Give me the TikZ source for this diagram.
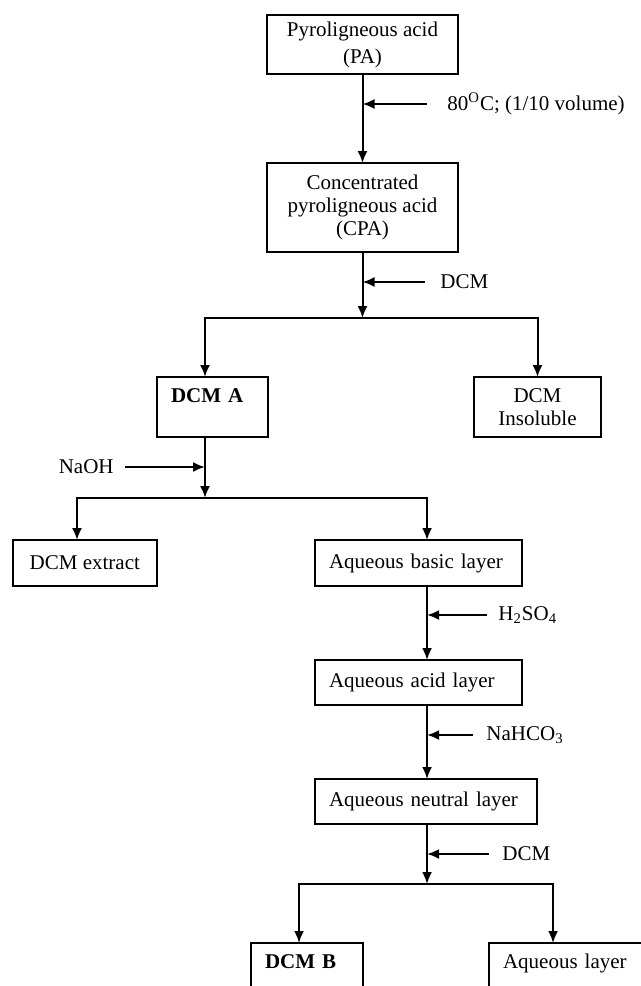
\documentclass[tikz,border=0pt]{standalone}
\usepackage{fontspec}
\setmainfont{Liberation Serif}
\usetikzlibrary{arrows.meta, positioning, calc}

\begin{document}
\begin{tikzpicture}[
        node distance=37pt and 60pt,
        box/.style={rectangle, draw=black, line width=1pt, outer sep=0pt, inner xsep=7pt, inner ysep=2pt, align=center, font=\fontsize{10.5}{11.5}\selectfont},
        lbox/.style={box, align=left},
        reagent/.style={inner ysep=0pt, inner xsep=6.5pt, font=\fontsize{10.5}{11.5}\selectfont},
        arrow/.style={-{Latex[length=6pt, width=5pt]}, line width=1pt}
    ]
        \path[use as bounding box, fill=white] (0,0) rectangle (320.5pt,-493pt);
        \clip (0,0) rectangle (320.5pt,-493pt);

        \node[box, minimum width=95.5pt, minimum height=29.5pt] (pa) at (181.25pt,-22.25pt) {Pyroligneous acid\\[2pt](PA)};
        \node[box, minimum width=95.5pt, minimum height=44.5pt, below=44.5pt of pa] (cpa) {Concentrated\\pyroligneous acid\\(CPA)};
        \node[lbox, text width=41.5pt, minimum height=30pt, below=62.5pt of cpa, xshift=-75pt] (dcma) {\textbf{DCM A}\\\mbox{}};
        \node[box, minimum width=63.5pt, minimum height=30pt, right=103pt of dcma] (dcmi) {DCM\\Insoluble};
        \node[box, minimum width=72.25pt, minimum height=23pt, below=51.5pt of dcma, xshift=-63.85pt] (dcmx) {DCM extract};
        \node[lbox, text width=89.5pt, minimum height=23pt, right=79pt of dcmx] (basic) {Aqueous basic layer};
        \node[lbox, text width=89.5pt, minimum height=22.5pt, below=37pt of basic] (acid) {Aqueous acid layer};
        \node[lbox, text width=97pt, minimum height=22.5pt, below=37pt of acid.south west, anchor=north west] (neutral) {Aqueous neutral layer};
        \node[lbox, text width=42pt, minimum height=30pt, below=59.5pt of neutral, xshift=-59.5pt] (dcmb) {\textbf{DCM B}\\\mbox{}};
        \node[lbox, text width=66pt, minimum height=30pt, right=63pt of dcmb] (aqueous) {Aqueous layer\\\mbox{}};

        % reagents
        \node[reagent, inner xsep=10pt, anchor=west] (heat) at ([shift={(32.25pt,-15pt)}]pa.south) {80\textsuperscript{O}C; (1/10 volume)};
        \node[reagent, inner xsep=7.5pt, anchor=west] (dcm1) at ([shift={(31.25pt,-15pt)}]cpa.south) {DCM};

        \coordinate (m1) at (heat -| pa.south);
        \coordinate (m2) at (dcm1 -| cpa.south);
        \coordinate (j1) at ([yshift=-33pt]cpa.south);
        \coordinate (ain) at ([xshift=-3.75pt]dcma.north);
        \coordinate (aout) at ([xshift=-3.75pt]dcma.south);

        \draw[arrow] (pa) -- (cpa);
        \draw[arrow] (heat) -- (m1);
        \draw[arrow] (cpa) -- (j1);
        \draw[arrow] (dcm1) -- (m2);
        \draw[arrow] (j1) -| (ain);
        \draw[arrow] (j1) -| (dcmi);

        \node[reagent, inner xsep=5.5pt, anchor=east] (naoh) at ([shift={(-40pt,-15pt)}]aout) {NaOH};
        \coordinate (m3) at (naoh -| aout);
        \coordinate (j2) at ([yshift=-30.5pt]aout);
        \coordinate (xin) at ([xshift=-3.9pt]dcmx.north);
        \coordinate (bin) at ([xshift=4.25pt]basic.north);
        \coordinate (bout) at ([xshift=4.25pt]basic.south);

        \draw[arrow] (aout) -- (j2);
        \draw[arrow] (naoh) -- (m3);
        \draw[arrow] (j2) -| (xin);
        \draw[arrow] (j2) -| (bin);

        % aqueous chain
        \node[reagent, inner xsep=5.5pt, anchor=west] (acid1) at ([shift={(30pt,-14.5pt)}]bout) {H\textsubscript{2}SO\textsubscript{4}};
        \coordinate (m4) at (acid1 -| bout);
        \coordinate (cin) at (bout |- acid.north);
        \coordinate (cout) at (bout |- acid.south);
        \node[reagent, anchor=west] (base1) at ([shift={(23pt,-15pt)}]cout) {NaHCO\textsubscript{3}};
        \coordinate (m5) at (base1 -| bout);
        \coordinate (nin) at (bout |- neutral.north);
        \coordinate (nout) at (bout |- neutral.south);
        \node[reagent, anchor=west] (dcm2) at ([shift={(31pt,-15pt)}]nout) {DCM};
        \coordinate (m6) at (dcm2 -| bout);
        \coordinate (j3) at ([yshift=-30pt]nout);
        \coordinate (bbin) at ([xshift=-4pt]dcmb.north);
        \coordinate (qin) at ([xshift=-8pt]aqueous.north);

        \draw[arrow] (bout) -- (cin);
        \draw[arrow] (acid1) -- (m4);
        \draw[arrow] (cout) -- (nin);
        \draw[arrow] (base1) -- (m5);
        \draw[arrow] (nout) -- (j3);
        \draw[arrow] (dcm2) -- (m6);
        \draw[arrow] (j3) -| (bbin);
        \draw[arrow] (j3) -| (qin);
    \end{tikzpicture}
\end{document}
